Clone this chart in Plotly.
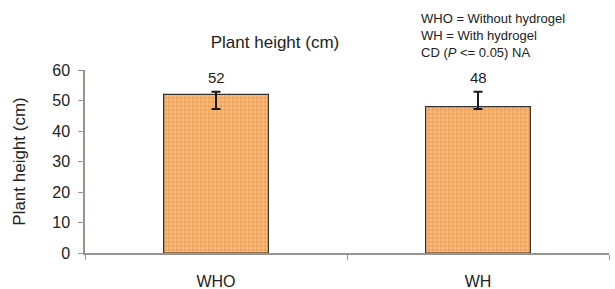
import plotly.graph_objects as go

categories = ["WHO", "WH"]
values = [52, 48]
err_plus = [0.9, 4.9]
err_minus = [4.8, 0.8]
value_labels = ["52", "48"]
y_ticks = [0, 10, 20, 30, 40, 50, 60]

font_family = "Liberation Sans, Arial, sans-serif"
text_color = "#222222"
axis_color = "#9a928c"

fig = go.Figure()
fig.add_trace(go.Bar(
    x=categories,
    y=values,
    width=0.4,
    marker=dict(
        color="#F3A85E",
        line=dict(color="#333333", width=1.2),
        pattern=dict(shape=".", fgcolor="#F7C08A", bgcolor="#F3A85E", size=4, solidity=0.3, fillmode="replace"),
    ),
    error_y=dict(type="data", symmetric=False, array=err_plus, arrayminus=err_minus,
                 color="#1a1a1a", thickness=2, width=4.5),
    showlegend=False,
))

for c, v, p, lab in zip(categories, values, err_plus, value_labels):
    fig.add_annotation(x=c, y=v + p, text=lab, showarrow=False, yanchor="bottom", yshift=4,
                       font=dict(family=font_family, size=15, color=text_color))

fig.add_annotation(
    xref="paper", yref="paper", x=(419 - 85) / 524, y=(253 - 9) / 183,
    xanchor="left", yanchor="top", align="left", showarrow=False,
    text="WHO = Without hydrogel<br>WH = With hydrogel<br>CD (<i>P</i> &lt;= 0.05) NA",
    font=dict(family=font_family, size=13, color=text_color),
)

fig.update_layout(
    width=615, height=289,
    margin=dict(l=85, r=6, t=70, b=36, autoexpand=False),
    paper_bgcolor="white", plot_bgcolor="white",
    font=dict(family=font_family, color=text_color),
    title=dict(text="Plant height (cm)", x=275 / 615, y=1 - 42 / 289, xanchor="center", yanchor="middle",
               font=dict(family=font_family, size=17, color=text_color)),
    bargap=0.6,
)
fig.update_xaxes(
    showline=True, linecolor=axis_color, linewidth=1.5, automargin=False,
    ticks="outside", tickson="boundaries", ticklen=5, tickcolor=axis_color, tickwidth=1,
    tickfont=dict(family=font_family, size=16, color=text_color),
    showgrid=False, zeroline=False, ticklabelstandoff=13,
)
fig.update_yaxes(
    range=[0, 60], tickvals=y_ticks, showline=True, linecolor=axis_color, linewidth=1.5, automargin=False,
    ticks="outside", ticklen=5, tickcolor=axis_color, tickwidth=1,
    tickfont=dict(family=font_family, size=16, color=text_color),
    showgrid=False, zeroline=False, ticklabelstandoff=5,
    title=dict(text="Plant height (cm)", font=dict(family=font_family, size=17, color=text_color), standoff=22),
)

fig.write_html("out.html", config={"displayModeBar": False},
               post_script="document.body.style.margin='0';")
